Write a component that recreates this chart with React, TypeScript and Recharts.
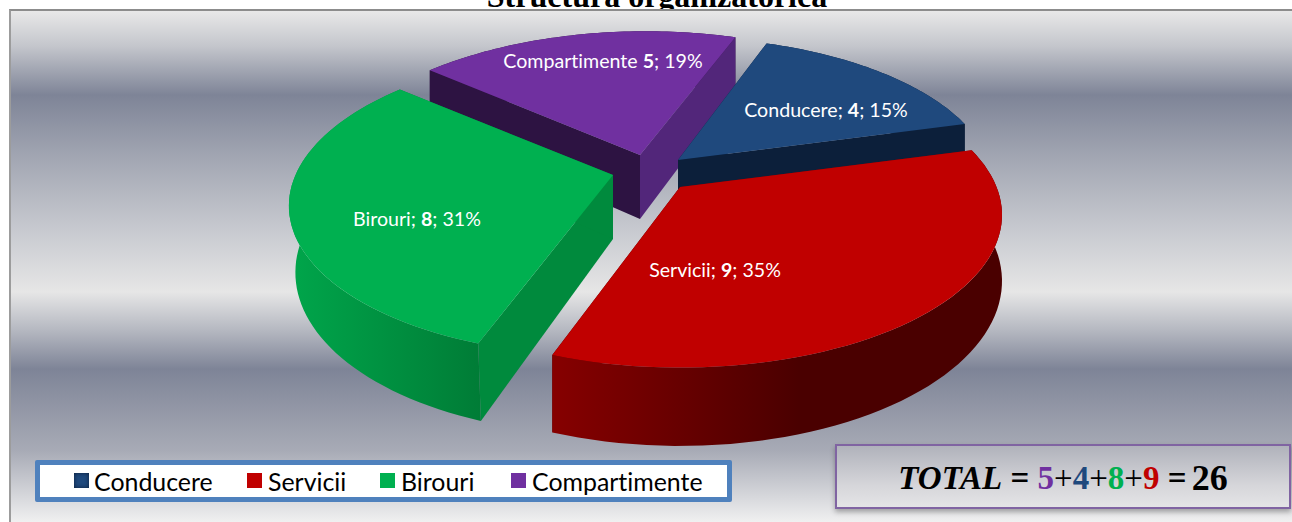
import { PieChart, Pie } from 'recharts';

const categories = ['Conducere', 'Servicii', 'Birouri', 'Compartimente'];
const values = [4, 9, 8, 5];
const labelNames = ['Conducere;', 'Servicii;', 'Birouri;', 'Compartimente'];
const colors = ['#1f497d', '#c00000', '#00b050', '#7030a0'];
const totalOrder = [5, 4, 8, 9];
const totalColors = ['#7030a0', '#1f497d', '#00b050', '#c00000'];
const drawOrder = ['Compartimente', 'Conducere', 'Birouri', 'Servicii'];

const chartData = categories.map((name, i) => ({ name, value: values[i], fill: colors[i] }));
const total = values.reduce((a, b) => a + b, 0);

const WIDTH = 1292;
const HEIGHT = 522;

// fake 3D: the pie lies on a tilted plane, back is smaller than front
const TILT = 0.466;
const PERSPECTIVE = 0.183;
const DEPTH = 64;

const sliceStyle: Record<string, any> = {
  Conducere: { dx: 33, dy: -12, scale: 0.98, shear: 0, shrink: 1, radialA: '#0c1f3a', radialB: '#0c1f3a', rim: ['#0c1f3a', '#0c1f3a'], rimStop: 60, label: [148, -51] },
  Servicii: { dx: 35, dy: 15, scale: 0.997, shear: 0, shrink: 1, radialA: '#7a0000', radialB: '#4a0000', rim: ['#860000', '#4a0000'], rimStop: 55, label: [35, 82] },
  Birouri: { dx: -32, dy: 3, scale: 1, shear: 0.04, shrink: 0.98, radialA: '#008a3d', radialB: '#008a3d', rim: ['#00a64b', '#007c36'], rimStop: 100, label: [-196, 43] },
  Compartimente: { dx: -5, dy: -17, scale: 0.99, shear: 0.05, shrink: 1, radialA: '#2d1342', radialB: '#52267a', rim: ['#2d1342', '#2d1342'], rimStop: 60, rimFirst: true, label: [-37, -95] },
};

const rad = (deg: number) => (deg * Math.PI) / 180;

function Slice3D(props: any) {
  const { cx, cy, startAngle, endAngle, outerRadius, name } = props;
  const style = sliceStyle[name];
  const i = categories.indexOf(name);
  const ax = cx + style.dx;
  const ay = cy + style.dy;
  const r = outerRadius * style.scale;

  const top = (f: number, angle: number) => {
    const u = f * Math.cos(rad(angle));
    const v = f * Math.sin(rad(angle));
    const s = 1 / (1 + PERSPECTIVE * v);
    const y = ay - r * TILT * v * s;
    return { x: ax + r * u * s - (y - ay) * style.shear, y, s };
  };
  const bottom = (f: number, angle: number) => {
    const p = top(f, angle);
    return { x: ax + (p.x - ax) * style.shrink, y: p.y + DEPTH * p.s };
  };

  const steps = 60;
  const arc: number[] = [];
  for (let k = 0; k <= steps; k++) arc.push(startAngle + ((endAngle - startAngle) * k) / steps);

  const poly = (pts: { x: number; y: number }[]) =>
    'M' + pts.map((p) => `${p.x.toFixed(1)},${p.y.toFixed(1)}`).join('L') + 'Z';

  const wall = (angle: number) =>
    poly([top(0, angle), top(1, angle), bottom(1, angle), bottom(0, angle)]);

  const rimPath = poly([...arc.map((a) => top(1, a)), ...[...arc].reverse().map((a) => bottom(1, a))]);
  const topPath = poly([top(0, startAngle), ...arc.map((a) => top(1, a))]);
  const gradId = `rim-${i}`;
  const pct = Math.round((values[i] / total) * 100);
  const rim = <path d={rimPath} fill={`url(#${gradId})`} />;

  return (
    <g>
      <defs>
        <linearGradient id={gradId} x1="0" y1="0" x2="1" y2="0">
          <stop offset="0%" stopColor={style.rim[0]} />
          <stop offset={`${style.rimStop}%`} stopColor={style.rim[1]} />
          <stop offset="100%" stopColor={style.rim[1]} />
        </linearGradient>
      </defs>
      {style.rimFirst ? rim : null}
      <path d={wall(startAngle)} fill={style.radialA} />
      <path d={wall(endAngle)} fill={style.radialB} />
      {style.rimFirst ? null : rim}
      <path d={topPath} fill={colors[i]} />
      <text
        x={ax + style.label[0]}
        y={ay + style.label[1]}
        textAnchor="middle"
        dominantBaseline="central"
        fill="#ffffff"
        style={{ fontFamily: 'Lato, sans-serif', fontSize: 19.6, fontVariantLigatures: 'none' }}
      >
        {labelNames[i]} <tspan fontWeight="bold">{values[i]}</tspan>; {pct}%
      </text>
    </g>
  );
}

const legendLeft = [74, 247, 380, 511];

export default function App() {
  return (
    <div style={{ position: 'absolute', left: 0, top: 0, width: WIDTH, height: HEIGHT, overflow: 'hidden', background: '#fff' }}>
      <div
        style={{
          position: 'absolute',
          left: 0,
          width: WIDTH,
          top: -22,
          textAlign: 'center',
          paddingLeft: 22,
          boxSizing: 'border-box',
          fontFamily: '"Liberation Serif", serif',
          fontWeight: 'bold',
          fontSize: 32,
          lineHeight: '36px',
          color: '#000',
        }}
      >
        Structura organizatorica
      </div>
      <div
        style={{
          position: 'absolute',
          left: 9,
          top: 9,
          width: WIDTH,
          height: HEIGHT,
          borderTop: '2px solid #8c8c8c',
          borderLeft: '2px solid #9c9c9c',
          boxSizing: 'border-box',
          background:
            'linear-gradient(to bottom, #e8e8e8 0px, #c4c6cc 35px, #7e8497 84px, #a4a8b4 150px, #c8cad0 220px, #e6e6e6 281px, #b4b7c0 320px, #7e8497 358px, #a8abb6 440px, #f2f2f2 513px)',
        }}
      />
      <div style={{ position: 'absolute', left: 0, top: 0 }}>
        <PieChart width={WIDTH} height={HEIGHT} margin={{ top: 0, right: 0, bottom: 0, left: 0 }}>
          {drawOrder.map((slice) => (
            <Pie
              key={slice}
              data={chartData}
              dataKey="value"
              nameKey="name"
              cx={645}
              cy={172}
              outerRadius={317.5}
              startAngle={70.5}
              endAngle={-289.5}
              stroke="none"
              isAnimationActive={false}
              shape={(props: any) => (props.name === slice ? <Slice3D {...props} /> : <g />)}
            />
          ))}
        </PieChart>
      </div>

      {/* legend */}
      <div
        style={{
          position: 'absolute',
          left: 35,
          top: 460,
          width: 697,
          height: 42,
          boxSizing: 'border-box',
          background: '#fff',
          border: '5px solid #4f81bd',
          borderRadius: 2,
        }}
      />
      {categories.map((name, i) => (
        <div key={name}>
          <div
            style={{
              position: 'absolute',
              left: legendLeft[i],
              top: 473,
              width: 15,
              height: 15,
              background: colors[i],
              boxShadow: i === 0 ? 'inset 0 0 4px #0c1f3a' : undefined,
            }}
          />
          <div
            style={{
              position: 'absolute',
              left: legendLeft[i] + (i === 0 ? 20 : 21),
              top: 464,
              height: 34,
              lineHeight: '34px',
              fontFamily: 'Lato, sans-serif',
              fontSize: 24.9,
              fontVariantLigatures: 'none',
              color: '#000',
            }}
          >
            {name}
          </div>
        </div>
      ))}

      {/* total box */}
      <div
        style={{
          position: 'absolute',
          left: 835,
          top: 444,
          width: 456,
          height: 65,
          boxSizing: 'border-box',
          border: '2px solid #8064a2',
          paddingTop: 3,
          background: 'linear-gradient(to bottom, #b0b2bb 0%, #d6d6da 65%, #e4e4e6 100%)',
          boxShadow: '0 3px 5px rgba(0,0,0,0.3)',
          display: 'flex',
          alignItems: 'center',
          justifyContent: 'center',
          fontFamily: '"Liberation Serif", serif',
          fontWeight: 'bold',
          fontSize: 33,
          color: '#000',
          whiteSpace: 'pre',
        }}
      >
        <span style={{ fontStyle: 'italic' }}>TOTAL</span>
        <span> = </span>
        {totalOrder.map((n, i) => (
          <span key={i}>
            <span style={{ color: totalColors[i] }}>{n}</span>
            {i < totalOrder.length - 1 ? <span style={{ fontWeight: 'normal' }}>+</span> : null}
          </span>
        ))}
        <span> = </span>
        <span style={{ fontSize: 36, marginLeft: -3 }}>{total}</span>
      </div>
    </div>
  );
}
